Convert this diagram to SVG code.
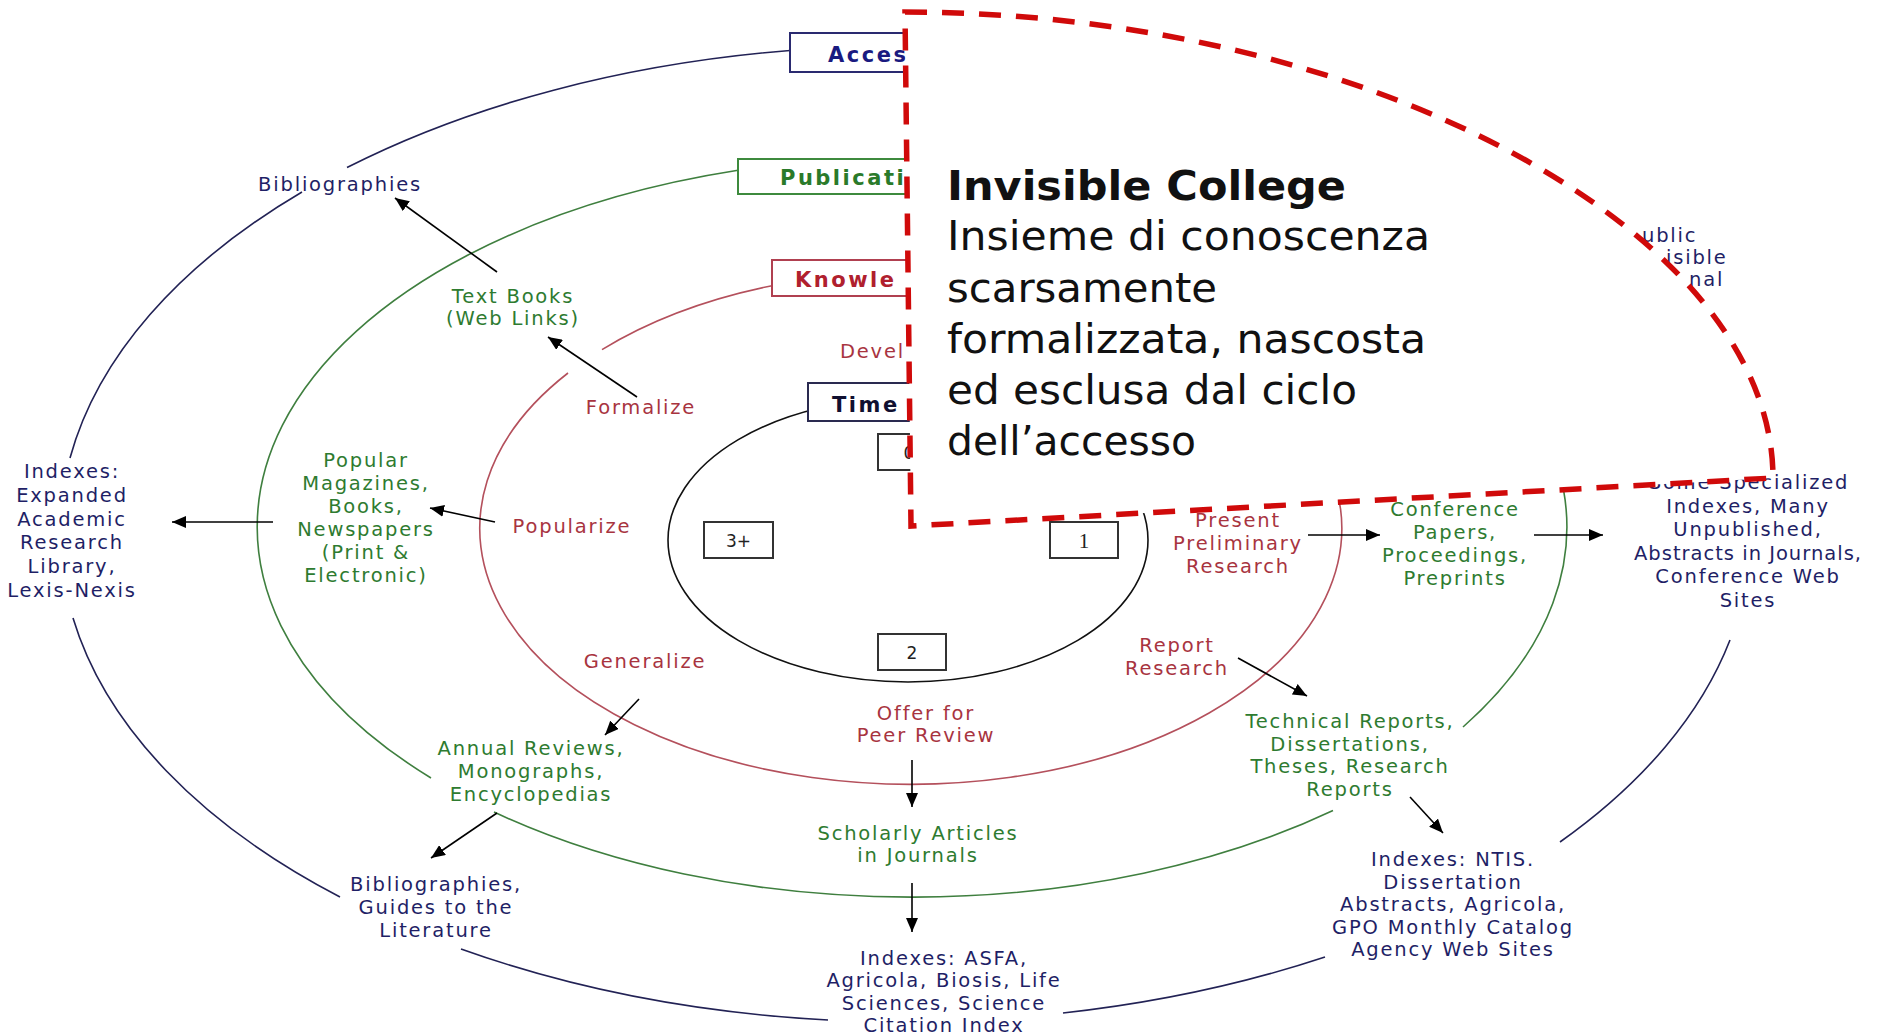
<svg xmlns="http://www.w3.org/2000/svg" width="1879" height="1034" viewBox="0 0 1879 1034">
<defs>
<marker id="ah" viewBox="0 0 14 12" refX="14" refY="6" markerWidth="14" markerHeight="12" markerUnits="userSpaceOnUse" orient="auto"><path d="M0,0 L14,6 L0,12 z" fill="#000"/></marker>
<style>
.lbl{font-family:"DejaVu Sans",Verdana,sans-serif;font-size:19.5px;letter-spacing:1.8px;text-anchor:middle}
.lft{text-anchor:start}
.nv{fill:#1f1f66}
.gr{fill:#2e7b30}
.rd{fill:#a8343f}
.ttl{font-family:"DejaVu Sans",Verdana,sans-serif;font-weight:bold;font-size:21px;letter-spacing:2.5px}
.num{font-family:"DejaVu Sans",Verdana,sans-serif;font-size:17px;fill:#222;text-anchor:middle}
.box{fill:#fff;stroke-width:2}
.nbox{fill:#fff;stroke:#333;stroke-width:2}
.arc{fill:none;stroke-width:1.6}
.arr{stroke:#000;stroke-width:1.6;fill:none;marker-end:url(#ah)}
.body{font-family:"DejaVu Sans",Verdana,sans-serif;font-size:41px;fill:#111}
</style>
</defs>
<rect x="0" y="0" width="1879" height="1034" fill="#fff"/>

<g id="cycles">
<g id="access-cycle" class="arc" stroke="#222255">
<path d="M790,50.5 A845,488 0 0 0 347,167.5"/>
<path d="M302,192 A845,488 0 0 0 70,458"/>
<path d="M73,618 A845,488 0 0 0 340,897"/>
<path d="M461,949 A845,488 0 0 0 828,1020"/>
<path d="M1063,1013 A845,488 0 0 0 1325,957"/>
<path d="M1560,842 A845,488 0 0 0 1730,640"/>
</g>
<g id="publication-cycle" class="arc" stroke="#3f7f3f">
<path d="M738,170.3 A655,370 0 0 0 431,778"/>
<path d="M494,812 A655,370 0 0 0 1333,810.5"/>
<path d="M1463,727 A655,370 0 0 0 1559,470"/>
</g>
<g id="knowledge-cycle" class="arc" stroke="#b4505c">
<path d="M772,285.7 A431,256 0 0 0 602,349.6"/>
<path d="M568,373 A431,256 0 1 0 1334,480"/>
</g>
<g id="time-cycle" class="arc" stroke="#111">
<ellipse cx="908" cy="540" rx="240" ry="142"/>
</g>
</g>

<g id="connectors">
<line class="arr" x1="497" y1="272" x2="395" y2="198"/>
<line class="arr" x1="637" y1="397" x2="548" y2="337"/>
<line class="arr" x1="495" y1="522" x2="430" y2="508"/>
<line class="arr" x1="273" y1="522" x2="172" y2="522"/>
<line class="arr" x1="639" y1="699" x2="605" y2="735"/>
<line class="arr" x1="497" y1="813" x2="431" y2="858"/>
<line class="arr" x1="912" y1="760" x2="912" y2="807"/>
<line class="arr" x1="912" y1="883" x2="912" y2="932"/>
<line class="arr" x1="1308" y1="535" x2="1380" y2="535"/>
<line class="arr" x1="1534" y1="535" x2="1603" y2="535"/>
<line class="arr" x1="1238" y1="658" x2="1307" y2="696"/>
<line class="arr" x1="1410" y1="797" x2="1443" y2="833"/>
</g>

<g id="box-access"><rect class="box" x="790" y="33" width="200" height="39" stroke="#2a2a70"/><text class="ttl" x="828" y="62" fill="#1a1a80">Acces</text></g>
<g id="box-publication"><rect class="box" x="738" y="159" width="260" height="35" stroke="#3d8a3d"/><text class="ttl" x="780" y="185" fill="#2a7a2a">Publicati</text></g>
<g id="box-knowledge"><rect class="box" x="772" y="260" width="240" height="36" stroke="#b04050"/><text class="ttl" x="795" y="287" fill="#b0202e">Knowle</text></g>
<g id="box-time"><rect class="box" x="808" y="383" width="200" height="38" stroke="#2a2a50"/><text class="ttl" x="832" y="412" fill="#101030">Time</text></g>
<g id="box-0"><rect class="nbox" x="878" y="434" width="68" height="36"/><text class="num" x="909" y="459">0</text></g>
<g id="box-3"><rect class="nbox" x="704" y="522" width="69" height="36"/><text class="num" x="738.5" y="547">3+</text></g>
<g id="box-1"><rect class="nbox" x="1050" y="522" width="68" height="36"/><text class="num" x="1084" y="548" style="font-family:'Liberation Serif',serif;font-size:21px">1</text></g>
<g id="box-2"><rect class="nbox" x="878" y="634" width="68" height="36"/><text class="num" x="912" y="659">2</text></g>

<g id="n-bibliographies"><text class="lbl nv" x="340" y="191">Bibliographies</text></g>
<g id="n-textbooks"><text class="lbl gr" x="513" y="303">Text Books<tspan x="513" dy="22">(Web Links)</tspan></text></g>
<g id="n-formalize"><text class="lbl rd" x="641" y="414">Formalize</text></g>
<g id="n-develop"><text class="lbl rd lft" x="840" y="358">Devel</text></g>
<g id="n-popular"><text class="lbl gr" x="366" y="467">Popular<tspan x="366" dy="23">Magazines,</tspan><tspan x="366" dy="23">Books,</tspan><tspan x="366" dy="23">Newspapers</tspan><tspan x="366" dy="23">(Print &amp;</tspan><tspan x="366" dy="23">Electronic)</tspan></text></g>
<g id="n-popularize"><text class="lbl rd" x="572" y="533">Popularize</text></g>
<g id="n-indexes-left"><text class="lbl nv" x="72" y="478">Indexes:<tspan x="72" dy="23.8">Expanded</tspan><tspan x="72" dy="23.8">Academic</tspan><tspan x="72" dy="23.8">Research</tspan><tspan x="72" dy="23.8">Library,</tspan><tspan x="72" dy="23.8">Lexis-Nexis</tspan></text></g>
<g id="n-generalize"><text class="lbl rd" x="645" y="668">Generalize</text></g>
<g id="n-annual"><text class="lbl gr" x="531" y="755">Annual Reviews,<tspan x="531" dy="23">Monographs,</tspan><tspan x="531" dy="23">Encyclopedias</tspan></text></g>
<g id="n-biblio-guides"><text class="lbl nv" x="436" y="891">Bibliographies,<tspan x="436" dy="23">Guides to the</tspan><tspan x="436" dy="23">Literature</tspan></text></g>
<g id="n-offer"><text class="lbl rd" x="926" y="720">Offer for<tspan x="926" dy="22">Peer Review</tspan></text></g>
<g id="n-scholarly"><text class="lbl gr" x="918" y="840">Scholarly Articles<tspan x="918" dy="22">in Journals</tspan></text></g>
<g id="n-indexes-asfa"><text class="lbl nv" x="944" y="965">Indexes: ASFA,<tspan x="944" dy="22.3">Agricola, Biosis, Life</tspan><tspan x="944" dy="22.3">Sciences, Science</tspan><tspan x="944" dy="22.3">Citation Index</tspan></text></g>
<g id="n-present"><text class="lbl rd" x="1238" y="527">Present<tspan x="1238" dy="23">Preliminary</tspan><tspan x="1238" dy="23">Research</tspan></text></g>
<g id="n-report"><text class="lbl rd" x="1177" y="652">Report<tspan x="1177" dy="23">Research</tspan></text></g>
<g id="n-conference"><text class="lbl gr" x="1455" y="516">Conference<tspan x="1455" dy="23">Papers,</tspan><tspan x="1455" dy="23">Proceedings,</tspan><tspan x="1455" dy="23">Preprints</tspan></text></g>
<g id="n-specialized"><text class="lbl nv" x="1749" y="489">Some Specialized<tspan x="1748" dy="23.5">Indexes, Many</tspan><tspan x="1748" dy="23.5">Unpublished,</tspan><tspan x="1748" dy="23.5" letter-spacing="1px">Abstracts in Journals,</tspan><tspan x="1748" dy="23.5">Conference Web</tspan><tspan x="1748" dy="23.5">Sites</tspan></text></g>
<g id="n-technical"><text class="lbl gr" x="1350" y="728">Technical Reports,<tspan x="1350" dy="22.5">Dissertations,</tspan><tspan x="1350" dy="22.5">Theses, Research</tspan><tspan x="1350" dy="22.5">Reports</tspan></text></g>
<g id="n-indexes-ntis"><text class="lbl nv" x="1453" y="866">Indexes: NTIS.<tspan x="1453" dy="22.5">Dissertation</tspan><tspan x="1453" dy="22.5">Abstracts, Agricola,</tspan><tspan x="1453" dy="22.5">GPO Monthly Catalog</tspan><tspan x="1453" dy="22.5">Agency Web Sites</tspan></text></g>
<g id="n-public"><text class="lbl nv lft" x="1642" y="242">ublic</text><text class="lbl nv lft" x="1666" y="264">isible</text><text class="lbl nv lft" x="1689" y="286">nal</text></g>

<g id="invisible-college">
<path d="M905,12 C1365,12 1773,231 1773,478 L911,526 Z" fill="#fff" stroke="#d00a0a" stroke-width="5.5" stroke-dasharray="22 15"/>
<text class="body" x="947" y="200" font-weight="bold" textLength="399" lengthAdjust="spacingAndGlyphs">Invisible College</text>
<text class="body" x="947" y="250" textLength="483" lengthAdjust="spacingAndGlyphs">Insieme di conoscenza</text>
<text class="body" x="947" y="302" textLength="270" lengthAdjust="spacingAndGlyphs">scarsamente</text>
<text class="body" x="947" y="353" textLength="479" lengthAdjust="spacingAndGlyphs">formalizzata, nascosta</text>
<text class="body" x="947" y="404" textLength="410" lengthAdjust="spacingAndGlyphs">ed esclusa dal ciclo</text>
<text class="body" x="947" y="455" textLength="249" lengthAdjust="spacingAndGlyphs">dell’accesso</text>
</g>
</svg>
